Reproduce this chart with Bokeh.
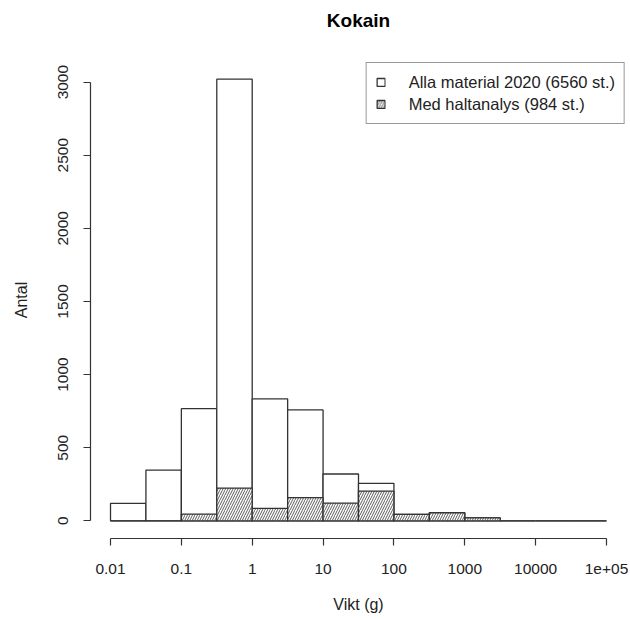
from bokeh.plotting import figure
from bokeh.models import FixedTicker, Range1d, Legend, LegendItem, ColumnDataSource, Title
from bokeh.embed import file_html
from bokeh.resources import INLINE

# bin edges as log10 exponents (half-decade bins 0.01 .. 1e5)
edge_exp = [-2.0, -1.5, -1.0, -0.5, 0.0, 0.5, 1.0, 1.5, 2.0, 2.5, 3.0, 3.5, 4.0, 4.5, 5.0]
all_counts = [119, 347, 767, 3020, 834, 758, 320, 256, 44, 55, 20, 0, 0, 0]
hal_counts = [0, 0, 46, 224, 85, 158, 121, 203, 44, 55, 20, 0, 0, 0]
tick_vals = [0.01, 0.1, 1, 10, 100, 1000, 10000, 100000]
tick_labels = ["0.01", "0.1", "1", "10", "100", "1000", "10000", "1e+05"]
y_ticks = [0, 500, 1000, 1500, 2000, 2500, 3000]

edges = [10 ** e for e in edge_exp]
left = edges[:-1]
right = edges[1:]

FONT = "Liberation Sans"

p = figure(width=628, height=617, output_backend="svg", toolbar_location=None,
           x_axis_type="log",
           x_range=Range1d(10 ** -2.2823, 10 ** 5.2823),
           y_range=Range1d(-121, 3141),
           min_border_left=90, min_border_right=2, min_border_top=61, min_border_bottom=79,
           title="Kokain")
p.outline_line_color = None
p.xgrid.visible = False
p.ygrid.visible = False
p.background_fill_color = "white"

p.title.align = "center"
p.title.text_font = FONT
p.title.text_font_size = "19px"
p.title.text_font_style = "bold"
p.title.text_color = "#000000"
p.title.standoff = 0

# invisible spacer between title and plot frame
p.add_layout(Title(text=" ", text_font_size="2px", standoff=27), "above")

src_all = ColumnDataSource(dict(left=left, right=right, top=all_counts, bottom=[0] * len(all_counts)))
src_hal = ColumnDataSource(dict(left=left, right=right, top=hal_counts, bottom=[0] * len(hal_counts)))

r_all = p.quad(left="left", right="right", top="top", bottom="bottom", source=src_all,
               fill_color="white", line_color="#333333", line_width=1.3)
r_hal = p.quad(left="left", right="right", top="top", bottom="bottom", source=src_hal,
               fill_color="white", line_color="#333333", line_width=1.3,
               hatch_pattern="/", hatch_scale=5, hatch_weight=0.8, hatch_color="#333333")

# axes
for ax in (p.xaxis[0], p.yaxis[0]):
    ax.axis_line_color = "#333333"
    ax.axis_line_width = 1.2
    ax.major_tick_line_color = "#333333"
    ax.major_tick_line_width = 1.2
    ax.major_tick_out = 7
    ax.major_tick_in = 0
    ax.minor_tick_line_color = None
    ax.major_label_text_font = FONT
    ax.major_label_text_font_size = "15.5px"
    ax.major_label_text_color = "#222222"
    ax.axis_label_text_font = FONT
    ax.axis_label_text_font_size = "16px"
    ax.axis_label_text_font_style = "normal"
    ax.axis_label_text_color = "#222222"

xa = p.xaxis[0]
xa.ticker = FixedTicker(ticks=tick_vals)
xa.major_label_overrides = {float(v): l for v, l in zip(tick_vals, tick_labels)}
xa.bounds = (tick_vals[0], tick_vals[-1])
xa.axis_label = "Vikt (g)"
xa.major_label_standoff = 18
xa.axis_label_standoff = 19

ya = p.yaxis[0]
ya.ticker = FixedTicker(ticks=y_ticks)
ya.bounds = (y_ticks[0], y_ticks[-1])
ya.major_label_orientation = "vertical"
ya.axis_label = "Antal"
ya.major_label_standoff = 15
ya.axis_label_standoff = 26

legend = Legend(items=[
    LegendItem(label="Alla material 2020 (6560 st.)", renderers=[r_all]),
    LegendItem(label="Med haltanalys (984 st.)", renderers=[r_hal]),
], location="top_right")
legend.margin = 1
legend.padding = 9
legend.spacing = 2
legend.glyph_width = 10
legend.glyph_height = 10
legend.label_height = 20
legend.label_standoff = 23
legend.label_text_font = FONT
legend.label_text_font_size = "16.5px"
legend.label_text_color = "#222222"
legend.border_line_color = "#333333"
legend.border_line_width = 1.2
legend.background_fill_alpha = 1.0
p.add_layout(legend, "center")

open("out.html", "w").write(file_html(p, INLINE))
